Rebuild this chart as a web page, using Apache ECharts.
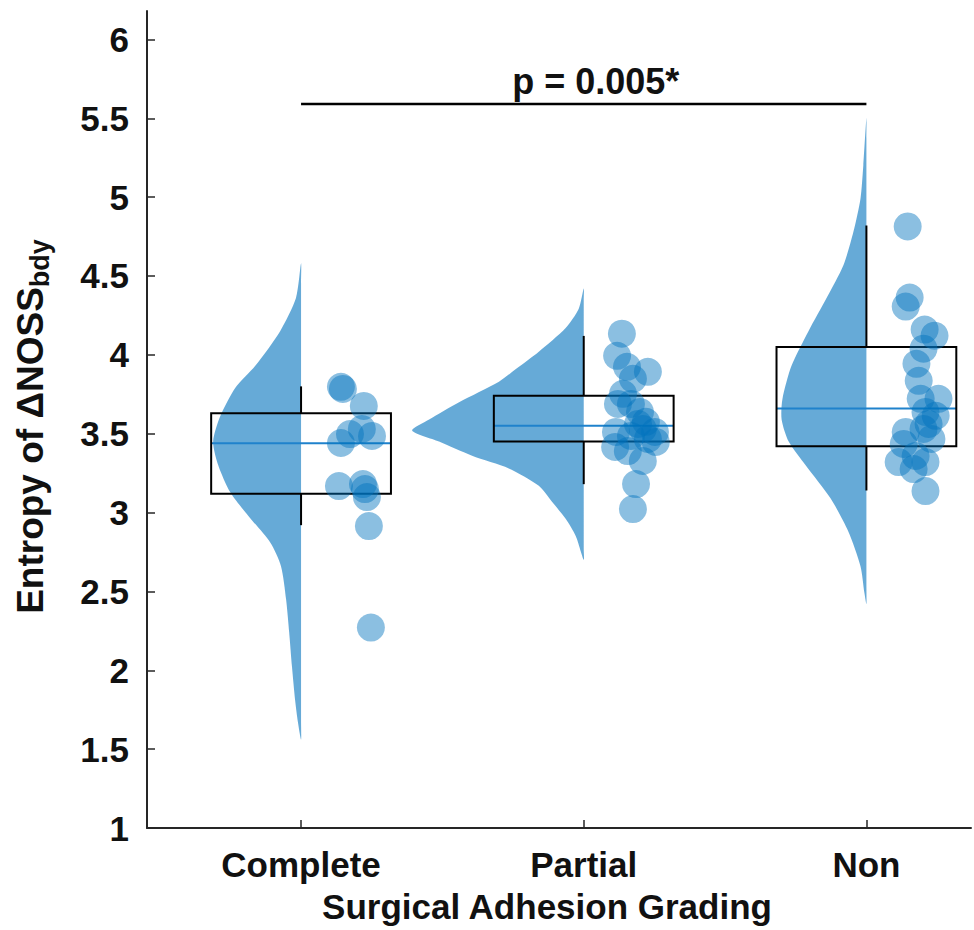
<!DOCTYPE html>
<html>
<head>
<meta charset="utf-8">
<script src="https://cdn.jsdelivr.net/npm/echarts@6/dist/echarts.min.js"></script>
<style>
html,body{margin:0;padding:0;background:#fff;}
#chart{width:974px;height:930px;}
</style>
</head>
<body>
<div id="chart"></div>
<script>
// ---------------- data ----------------
const categories = ['Complete', 'Partial', 'Non'];
const positions = [1, 2, 3];
const yTicks = [1, 1.5, 2, 2.5, 3, 3.5, 4, 4.5, 5, 5.5, 6];

// violin outlines: [value, half-width in category units] (left half only)
const violinComplete = [[4.58,0],[4.36,0.018],[4.15,0.074],[3.93,0.162],[3.79,0.233],[3.61,0.286],[3.45,0.311],[3.30,0.293],[3.13,0.251],[2.98,0.187],[2.81,0.109],[2.66,0.071],[2.45,0.053],[2.24,0.042],[2.02,0.032],[1.81,0.021],[1.67,0.011],[1.56,0]];
const violinPartial  = [[4.42,0],[4.29,0.018],[4.17,0.064],[4.02,0.159],[3.91,0.240],[3.83,0.300],[3.70,0.441],[3.59,0.547],[3.52,0.607],[3.45,0.512],[3.36,0.395],[3.28,0.265],[3.17,0.159],[3.07,0.113],[2.96,0.064],[2.85,0.028],[2.70,0]];
const violinNon      = [[5.50,0],[5.20,0.011],[4.99,0.021],[4.78,0.046],[4.57,0.081],[4.36,0.141],[4.15,0.205],[3.93,0.265],[3.72,0.297],[3.59,0.300],[3.45,0.275],[3.30,0.215],[3.09,0.127],[2.88,0.064],[2.66,0.021],[2.49,0.007],[2.42,0]];

// box statistics
const whiskerLow  = [2.92, 3.18, 3.14];
const q1          = [3.12, 3.45, 3.42];
const median      = [3.44, 3.55, 3.66];
const q3          = [3.63, 3.74, 4.05];
const whiskerHigh = [3.80, 4.12, 4.82];

// individual points: [x position (jittered), value]
const pointsComplete = [[1.141,3.797],[1.148,3.784],[1.222,3.676],[1.173,3.498],[1.215,3.530],[1.251,3.486],[1.141,3.441],[1.134,3.168],[1.219,3.181],[1.226,3.149],[1.233,3.098],[1.240,2.914],[1.247,2.271]];
const pointsPartial  = [[2.135,4.134],[2.118,3.994],[2.153,3.924],[2.227,3.892],[2.174,3.848],[2.139,3.753],[2.121,3.689],[2.167,3.689],[2.199,3.638],[2.220,3.575],[2.192,3.562],[2.209,3.530],[2.252,3.511],[2.114,3.511],[2.167,3.486],[2.227,3.467],[2.255,3.448],[2.111,3.416],[2.156,3.390],[2.209,3.327],[2.185,3.181],[2.174,3.022]];
const pointsNon      = [[3.146,4.814],[3.153,4.363],[3.139,4.306],[3.206,4.160],[3.241,4.121],[3.202,4.039],[3.177,3.943],[3.185,3.835],[3.255,3.721],[3.192,3.721],[3.209,3.638],[3.245,3.613],[3.220,3.562],[3.202,3.530],[3.139,3.511],[3.230,3.467],[3.132,3.435],[3.174,3.359],[3.114,3.320],[3.209,3.320],[3.167,3.276],[3.209,3.136]];

// significance bracket
const sigFrom = 1, sigTo = 3, sigY = 5.59, sigText = 'p = 0.005*';

// ---------------- styles ----------------
const FONT = "'Liberation Sans', Arial, sans-serif";
const BLUE_FILL = 'rgba(0,114,189,0.6)';
const DOT_FILL = 'rgba(0,114,189,0.57)';
const MEDIAN_BLUE = '#1f82cc';
const AXIS_COL = '#262626';
const BOX_HALF = 0.318;

const violins = [violinComplete, violinPartial, violinNon];

const chart = echarts.init(document.getElementById('chart'), null, {renderer: 'svg'});

const option = {
  backgroundColor: '#fff',
  animation: false,
  grid: {left: 147, right: 3, top: 11, bottom: 102, containLabel: false},
  xAxis: {
    type: 'value', min: 0.455, max: 3.37,
    axisLine: {show: true, onZero: false, lineStyle: {color: AXIS_COL, width: 2}},
    axisTick: {show: true, inside: true, length: 8, customValues: positions, lineStyle: {color: AXIS_COL, width: 1.5}},
    axisLabel: {
      customValues: positions, margin: 19,
      formatter: v => categories[Math.round(v) - 1] || '',
      color: '#111', fontSize: 35, fontWeight: 'bold', fontFamily: FONT
    },
    splitLine: {show: false},
    name: 'Surgical Adhesion Grading', nameLocation: 'middle', nameGap: 61,
    nameTextStyle: {color: '#111', fontSize: 35, fontWeight: 'bold', fontFamily: FONT, padding: [0, 24, 0, 0]}
  },
  yAxis: {
    type: 'value', min: 1, max: 6.18,
    axisLine: {show: true, onZero: false, lineStyle: {color: AXIS_COL, width: 2}},
    axisTick: {show: true, inside: true, length: 8, customValues: yTicks, lineStyle: {color: AXIS_COL, width: 1.5}},
    axisLabel: {customValues: yTicks, margin: 18, color: '#111', fontSize: 35, fontWeight: 'bold', fontFamily: FONT},
    splitLine: {show: false},
    name: 'Entropy of \u0394NOSS{sub|bdy}', nameLocation: 'middle', nameGap: 94,
    nameTextStyle: {
      color: '#111', fontSize: 37, fontWeight: 'bold', fontFamily: FONT, padding: [0, 14, 0, 0],
      rich: {sub: {fontSize: 27, fontWeight: 'bold', fontFamily: FONT, color: '#111', padding: [18, 0, 0, 0], verticalAlign: 'top'}}
    }
  },
  series: [
    {
      type: 'custom', name: 'violin', z: 1,
      data: positions.map((p, i) => [p, i]),
      renderItem: function (params, api) {
        const c = api.value(0);
        const outline = violins[api.value(1)];
        const pts = outline.map(d => api.coord([c - d[1], d[0]]));
        const top = outline[0][0], bot = outline[outline.length - 1][0];
        const n = 24;
        for (let k = 1; k < n; k++) {
          const v = bot + (top - bot) * k / n;
          pts.push(api.coord([c, v]));
        }
        return {type: 'polygon', shape: {points: pts, smooth: 0.25}, style: {fill: BLUE_FILL, stroke: null}};
      }
    },
    {
      type: 'custom', name: 'box', z: 3,
      data: positions.map((p, i) => [p, whiskerLow[i], q1[i], median[i], q3[i], whiskerHigh[i]]),
      renderItem: function (params, api) {
        const c = api.value(0);
        const lo = api.coord([c, api.value(1)]);
        const b1 = api.coord([c - BOX_HALF, api.value(2)]);
        const md = api.value(3);
        const b3 = api.coord([c + BOX_HALF, api.value(4)]);
        const hi = api.coord([c, api.value(5)]);
        const mL = api.coord([c - BOX_HALF, md]);
        const mR = api.coord([c + BOX_HALF, md]);
        const ln = {stroke: '#000', lineWidth: 2};
        return {type: 'group', children: [
          {type: 'line', shape: {x1: hi[0], y1: hi[1], x2: hi[0], y2: b3[1]}, style: ln},
          {type: 'line', shape: {x1: lo[0], y1: b1[1], x2: lo[0], y2: lo[1]}, style: ln},
          {type: 'line', shape: {x1: mL[0], y1: mL[1], x2: mR[0], y2: mR[1]}, style: {stroke: MEDIAN_BLUE, lineWidth: 2}},
          {type: 'rect', shape: {x: b1[0], y: b3[1], width: b3[0] - b1[0], height: b1[1] - b3[1]}, style: {fill: null, stroke: '#000', lineWidth: 2}}
        ]};
      }
    },
    {type: 'scatter', name: 'Complete', z: 4, symbolSize: 28, data: pointsComplete, itemStyle: {color: DOT_FILL}},
    {type: 'scatter', name: 'Partial', z: 4, symbolSize: 28, data: pointsPartial, itemStyle: {color: DOT_FILL}},
    {type: 'scatter', name: 'Non', z: 4, symbolSize: 28, data: pointsNon, itemStyle: {color: DOT_FILL}},
    {
      type: 'custom', name: 'significance', z: 5,
      data: [[sigFrom, sigTo, sigY]],
      renderItem: function (params, api) {
        const a = api.coord([api.value(0), api.value(2)]);
        const b = api.coord([api.value(1), api.value(2)]);
        return {type: 'group', children: [
          {type: 'line', shape: {x1: a[0], y1: a[1], x2: b[0], y2: b[1]}, style: {stroke: '#000', lineWidth: 2.5}},
          {type: 'text', x: (a[0] + b[0]) / 2 + 12, y: a[1] - 5,
           style: {text: sigText, align: 'center', verticalAlign: 'bottom', fill: '#111', font: 'bold 36px ' + FONT}}
        ]};
      }
    }
  ]
};
chart.setOption(option);
</script>
</body>
</html>
